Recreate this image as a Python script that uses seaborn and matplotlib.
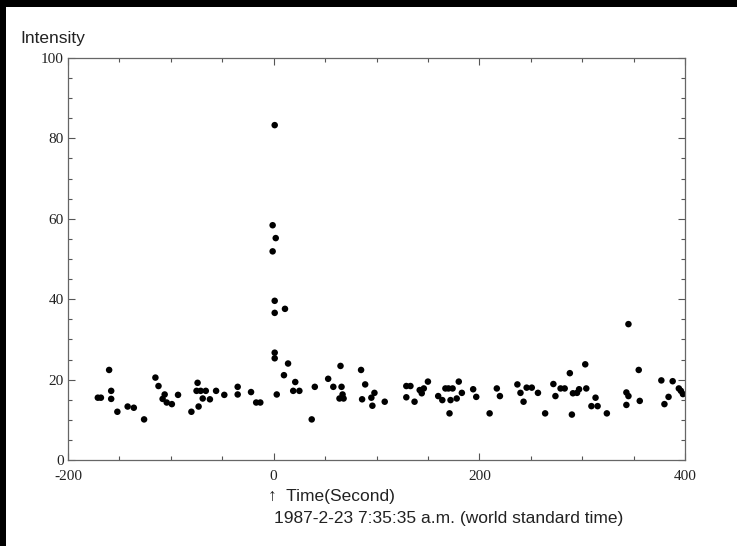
import numpy as np
import pandas as pd
import seaborn as sns
import matplotlib.pyplot as plt
from matplotlib.patches import Rectangle
from matplotlib.ticker import MultipleLocator

# Time (s) relative to 1987-2-23 7:35:35 a.m. and measured intensity
time_s = [-171, -168, -160, -158, -158, -152, -142, -136, -126, -115, -112, -106, -108,
          -104, -99, -93, -80, -74, -75, -71, -69, -73, -66, -62, -56, -48, -35, -35,
          -22, -17, -13,
          1, -1, 2, -1, 1, 1, 11, 1, 1, 14, 10, 3,
          21, 19, 25, 37, 40, 53, 58, 65, 66, 67, 64, 68, 85, 89, 86, 98, 95, 96, 108,
          129, 133, 129, 137, 142, 146, 144, 150, 160, 164, 167, 170, 174, 172, 171,
          178, 180, 183, 194, 197, 210, 217, 220, 237, 240, 243, 246, 251, 257, 264,
          272, 274, 279, 283, 288, 291, 295, 297, 290, 303, 304, 309, 315, 313, 324,
          345, 343, 345, 343, 355, 356, 377, 384, 380, 388, 394, 396, 398]
intensity = [15.5, 15.5, 22.4, 17.2, 15.2, 12.0, 13.3, 13.0, 10.1, 20.5, 18.4, 16.3, 15.2,
             14.3, 13.9, 16.2, 12.0, 19.2, 17.2, 17.2, 15.3, 13.3, 17.2, 15.1, 17.2, 16.2,
             18.2, 16.3, 16.9, 14.3, 14.3,
             83.3, 58.4, 55.2, 51.9, 39.6, 36.6, 37.6, 26.7, 25.3, 24.0, 21.1, 16.3,
             19.4, 17.2, 17.2, 10.1, 18.2, 20.2, 18.2, 23.4, 18.2, 16.3, 15.3, 15.3, 22.4,
             18.8, 15.1, 16.7, 15.5, 13.5, 14.5,
             18.4, 18.4, 15.6, 14.5, 17.4, 17.8, 16.6, 19.5, 15.9, 14.9, 17.8, 17.8, 17.8,
             14.9, 11.6, 15.3, 19.5, 16.7, 17.6, 15.7, 11.6, 17.8, 15.9, 18.8, 16.7, 14.5,
             18.0, 18.0, 16.7, 11.6, 18.9, 15.9, 17.8, 17.8, 21.6, 16.6, 16.7, 17.6, 11.3,
             23.8, 17.8, 13.4, 13.4, 15.5, 11.6,
             33.8, 16.8, 15.9, 13.7, 22.4, 14.7, 19.8, 15.7, 13.9, 19.6, 17.8, 17.2, 16.4]

x_ticks = [-200, 0, 200, 400]
y_ticks = [0, 20, 40, 60, 80, 100]

sns.set_theme(style="white")
plt.rcParams['font.family'] = ['Liberation Sans', 'DejaVu Sans']
plt.rcParams['axes.unicode_minus'] = False

df = pd.DataFrame({'Time': time_s, 'Intensity': intensity})

fig = plt.figure(figsize=(7.37, 5.46), dpi=100, facecolor='black')
# white page with the black scan border at top and left
fig.patches.append(Rectangle((6 / 737, 0), 1, 1 - 7 / 546, transform=fig.transFigure,
                             facecolor='white', edgecolor='none', zorder=-10))
ax = fig.add_axes([68 / 737, 1 - 460 / 546, 617 / 737, 402 / 546])
ax.set_facecolor('white')

sns.scatterplot(data=df, x='Time', y='Intensity', ax=ax, color='black', s=22,
                edgecolor='none', legend=False)

ax.set_xlim(-200, 400)
ax.set_ylim(0, 100)
ax.set_xticks(x_ticks)
ax.set_yticks(y_ticks)
ax.xaxis.set_minor_locator(MultipleLocator(50))
ax.yaxis.set_minor_locator(MultipleLocator(5))
ax.tick_params(which='both', direction='in', top=True, right=True, bottom=True, left=True,
               color='#555555', width=0.8)
ax.tick_params(which='major', length=5, labelsize=11)
ax.tick_params(which='minor', length=3)
ax.tick_params(axis='x', which='major', pad=7)
ax.tick_params(axis='y', which='major', pad=3)
for lab in ax.get_xticklabels() + ax.get_yticklabels():
    lab.set_family('Liberation Serif')
    lab.set_color('#222222')
for sp in ax.spines.values():
    sp.set_color('#666666')
    sp.set_linewidth(0.9)
ax.set_xlabel('')
ax.set_ylabel('')

fig.text(20 / 737, 1 - 38 / 546, 'Intensity', fontsize=12.5, color='#222222', va='center', ha='left')
fig.text(268 / 737, 1 - 497 / 546, '\u2191  Time(Second)', fontsize=12.5, color='#222222',
         va='center', ha='left')
fig.text(274 / 737, 1 - 519 / 546, '1987-2-23 7:35:35 a.m. (world standard time)', fontsize=12.5,
         color='#222222', va='center', ha='left')

fig.savefig('out.png', dpi=100, facecolor=fig.get_facecolor())
